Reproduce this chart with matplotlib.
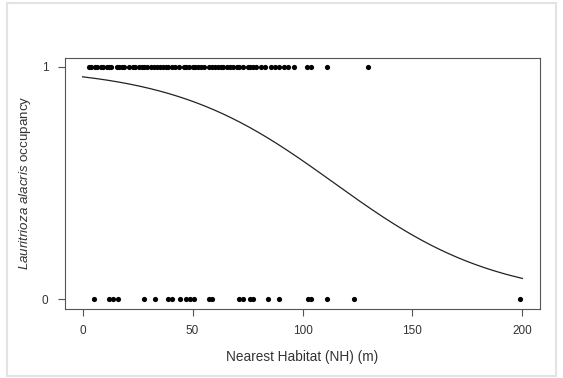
import numpy as np
import matplotlib.pyplot as plt
from matplotlib.patches import Rectangle

plt.rcParams['font.family'] = ['Liberation Sans', 'DejaVu Sans']
plt.rcParams['mathtext.fontset'] = 'custom'
plt.rcParams['mathtext.it'] = 'Liberation Sans:italic'
plt.rcParams['mathtext.rm'] = 'Liberation Sans'

# occupied sites (y = 1), nearest habitat distance in m
nh_present = [3, 4, 5.5, 6.5, 8.5, 9.5, 11, 12, 13, 15.5, 16.5, 18, 19, 21,
              23, 24, 25.5, 27, 28, 29.5, 31, 32.5, 34, 35, 36.5, 38, 39,
              40.5, 42, 44, 46, 47, 48.5, 50, 51, 52.5, 54, 55, 57.5, 59, 60,
              61.5, 63, 64, 65.5, 67, 68.5, 70, 71, 73, 75, 76, 77.5, 79,
              81, 83, 85.5, 87.5, 89.5, 91.5, 93.5, 96, 102, 104, 111, 130]
# unoccupied sites (y = 0)
nh_absent = [5, 12, 14, 16, 28, 33, 39, 40.5, 44.5, 47, 49, 50.5, 57.5, 59,
             71, 73, 76, 77.5, 84.5, 89.5, 102.5, 104, 111, 123.5, 199]

# logistic model coefficients
b0 = 3.1
b1 = -0.0271

xticks = [0, 50, 100, 150, 200]
yticks = [0, 1]

txt = '#333333'
W, H = 563, 378
fig = plt.figure(figsize=(W / 100, H / 100), dpi=100)
ax = fig.add_axes([65 / W, 1 - 308.5 / H, (540 - 65) / W, (308.5 - 57.5) / H])

ax.scatter(nh_present, np.ones(len(nh_present)), s=14, color='black', zorder=3, linewidths=0)
ax.scatter(nh_absent, np.zeros(len(nh_absent)), s=14, color='black', zorder=3, linewidths=0)

xx = np.linspace(0, 200, 300)
ax.plot(xx, 1 / (1 + np.exp(-(b0 + b1 * xx))), color='#222222', lw=0.9)

ax.set_xlim(-8, 208)
ax.set_ylim(-0.04, 1.04)
ax.set_xticks(xticks)
ax.set_yticks(yticks)
ax.tick_params(direction='out', length=5, width=0.8, color='#555555',
               labelsize=8.5, labelcolor=txt, pad=7)
for s in ax.spines.values():
    s.set_color('#555555')
    s.set_linewidth(0.8)

ax.set_xlabel('Nearest Habitat (NH) (m)', fontsize=9.8, color=txt, labelpad=9)
ax.set_ylabel(r'$\it{Lauritrioza\ alacris}$ occupancy', fontsize=9.6, color=txt, labelpad=6)

fig.patches.append(Rectangle((7 / W, 2 / H), 549 / W, 373 / H, transform=fig.transFigure,
                             fill=False, edgecolor='#e3e3e3', linewidth=1.5))

fig.savefig('out.png', dpi=100)
